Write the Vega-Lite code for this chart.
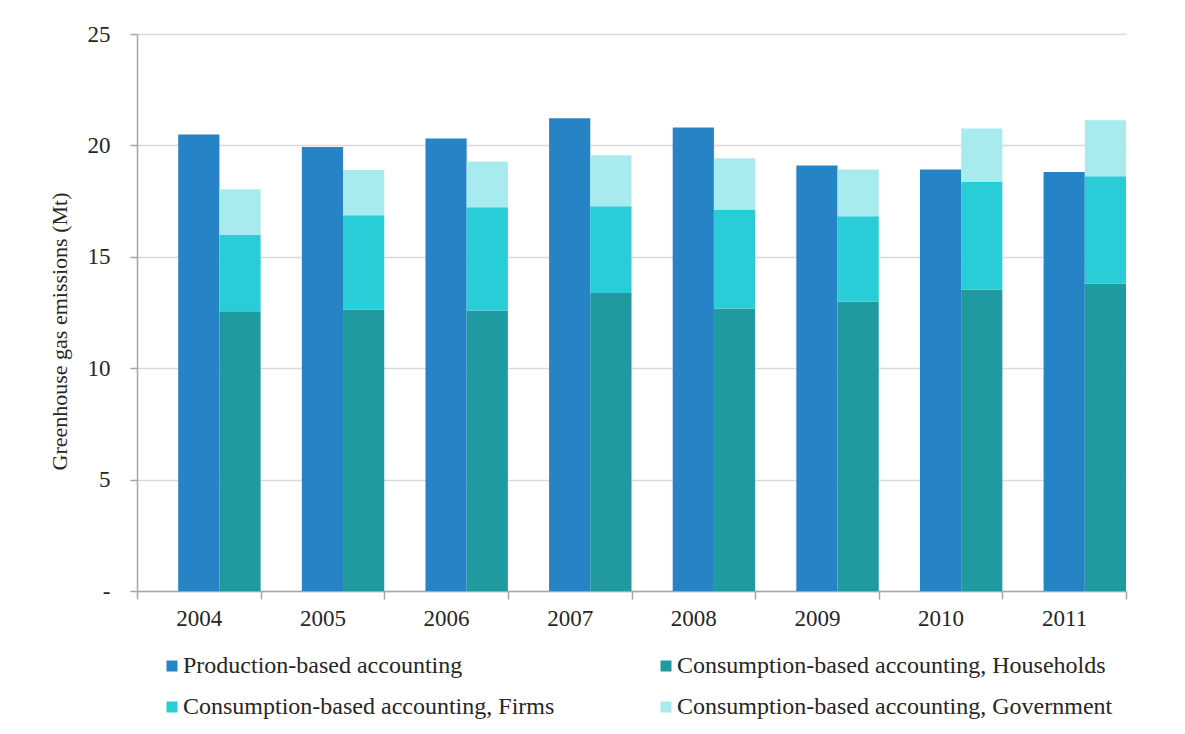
{
  "$schema": "https://vega.github.io/schema/vega-lite/v6.json",
  "autosize": "none",
  "width": 989,
  "height": 557,
  "padding": {"left": 137, "top": 34, "right": 59, "bottom": 143},
  "background": "white",
  "config": {
    "view": {"stroke": null},
    "font": "Liberation Serif",
    "axis": {"labelFont": "Liberation Serif", "titleFont": "Liberation Serif", "labelColor": "#262626", "titleColor": "#262626", "labelFontSize": 23, "titleFontSize": 22, "titleFontWeight": "normal", "domainColor": "#A6A6A6", "tickColor": "#A6A6A6", "domainWidth": 1.5, "tickWidth": 1.5},
    "legend": {"labelFont": "Liberation Serif", "labelFontSize": 24, "labelColor": "#262626"}
  },
  "data": {
    "values": [
      {"year": "2004", "series": "Production-based accounting", "grp": "P", "ord": 0, "value": 20.49},
      {"year": "2005", "series": "Production-based accounting", "grp": "P", "ord": 0, "value": 19.93},
      {"year": "2006", "series": "Production-based accounting", "grp": "P", "ord": 0, "value": 20.31},
      {"year": "2007", "series": "Production-based accounting", "grp": "P", "ord": 0, "value": 21.22},
      {"year": "2008", "series": "Production-based accounting", "grp": "P", "ord": 0, "value": 20.80},
      {"year": "2009", "series": "Production-based accounting", "grp": "P", "ord": 0, "value": 19.10},
      {"year": "2010", "series": "Production-based accounting", "grp": "P", "ord": 0, "value": 18.92},
      {"year": "2011", "series": "Production-based accounting", "grp": "P", "ord": 0, "value": 18.81},
      {"year": "2004", "series": "Consumption-based accounting, Households", "grp": "C", "ord": 1, "value": 12.56},
      {"year": "2005", "series": "Consumption-based accounting, Households", "grp": "C", "ord": 1, "value": 12.63},
      {"year": "2006", "series": "Consumption-based accounting, Households", "grp": "C", "ord": 1, "value": 12.59},
      {"year": "2007", "series": "Consumption-based accounting, Households", "grp": "C", "ord": 1, "value": 13.37},
      {"year": "2008", "series": "Consumption-based accounting, Households", "grp": "C", "ord": 1, "value": 12.68},
      {"year": "2009", "series": "Consumption-based accounting, Households", "grp": "C", "ord": 1, "value": 12.98},
      {"year": "2010", "series": "Consumption-based accounting, Households", "grp": "C", "ord": 1, "value": 13.53},
      {"year": "2011", "series": "Consumption-based accounting, Households", "grp": "C", "ord": 1, "value": 13.80},
      {"year": "2004", "series": "Consumption-based accounting, Firms", "grp": "C", "ord": 2, "value": 3.42},
      {"year": "2005", "series": "Consumption-based accounting, Firms", "grp": "C", "ord": 2, "value": 4.23},
      {"year": "2006", "series": "Consumption-based accounting, Firms", "grp": "C", "ord": 2, "value": 4.63},
      {"year": "2007", "series": "Consumption-based accounting, Firms", "grp": "C", "ord": 2, "value": 3.90},
      {"year": "2008", "series": "Consumption-based accounting, Firms", "grp": "C", "ord": 2, "value": 4.44},
      {"year": "2009", "series": "Consumption-based accounting, Firms", "grp": "C", "ord": 2, "value": 3.84},
      {"year": "2010", "series": "Consumption-based accounting, Firms", "grp": "C", "ord": 2, "value": 4.83},
      {"year": "2011", "series": "Consumption-based accounting, Firms", "grp": "C", "ord": 2, "value": 4.82},
      {"year": "2004", "series": "Consumption-based accounting, Government", "grp": "C", "ord": 3, "value": 2.05},
      {"year": "2005", "series": "Consumption-based accounting, Government", "grp": "C", "ord": 3, "value": 2.04},
      {"year": "2006", "series": "Consumption-based accounting, Government", "grp": "C", "ord": 3, "value": 2.06},
      {"year": "2007", "series": "Consumption-based accounting, Government", "grp": "C", "ord": 3, "value": 2.29},
      {"year": "2008", "series": "Consumption-based accounting, Government", "grp": "C", "ord": 3, "value": 2.30},
      {"year": "2009", "series": "Consumption-based accounting, Government", "grp": "C", "ord": 3, "value": 2.10},
      {"year": "2010", "series": "Consumption-based accounting, Government", "grp": "C", "ord": 3, "value": 2.40},
      {"year": "2011", "series": "Consumption-based accounting, Government", "grp": "C", "ord": 3, "value": 2.51}
    ]
  },
  "mark": {"type": "bar"},
  "encoding": {
    "x": {
      "field": "year", "type": "nominal", "title": null,
      "scale": {"paddingInner": 0, "paddingOuter": 0},
      "axis": {"labelAngle": 0, "tickBand": "extent", "tickSize": 8, "labelPadding": 8, "grid": false}
    },
    "xOffset": {
      "field": "grp", "type": "nominal",
      "scale": {"domain": ["_", "P", "C"], "paddingInner": 0, "paddingOuter": 0}
    },
    "y": {
      "field": "value", "type": "quantitative", "stack": "zero",
      "title": "Greenhouse gas emissions (Mt)",
      "scale": {"domain": [0, 25], "nice": false},
      "axis": {"values": [0, 5, 10, 15, 20, 25], "labelExpr": "datum.value == 0 ? '-' : datum.label", "tickSize": 7, "labelPadding": 20, "titlePadding": 16, "titleY": 297, "gridColor": "#D9D9D9", "gridWidth": 1.5}
    },
    "color": {
      "field": "series", "type": "nominal",
      "scale": {
        "domain": ["Production-based accounting", "Consumption-based accounting, Firms", "Consumption-based accounting, Households", "Consumption-based accounting, Government"],
        "range": ["#2683C6", "#28CDD7", "#1E9AA0", "#A8EBEF"]
      },
      "legend": {"title": null, "orient": "none", "legendX": 23, "legendY": 620, "columns": 2, "symbolType": "square", "symbolSize": 121, "symbolStrokeWidth": 0, "labelOffset": -1, "columnPadding": 99, "rowPadding": 17, "labelLimit": 600}
    },
    "order": {"field": "ord", "type": "quantitative"}
  }
}
